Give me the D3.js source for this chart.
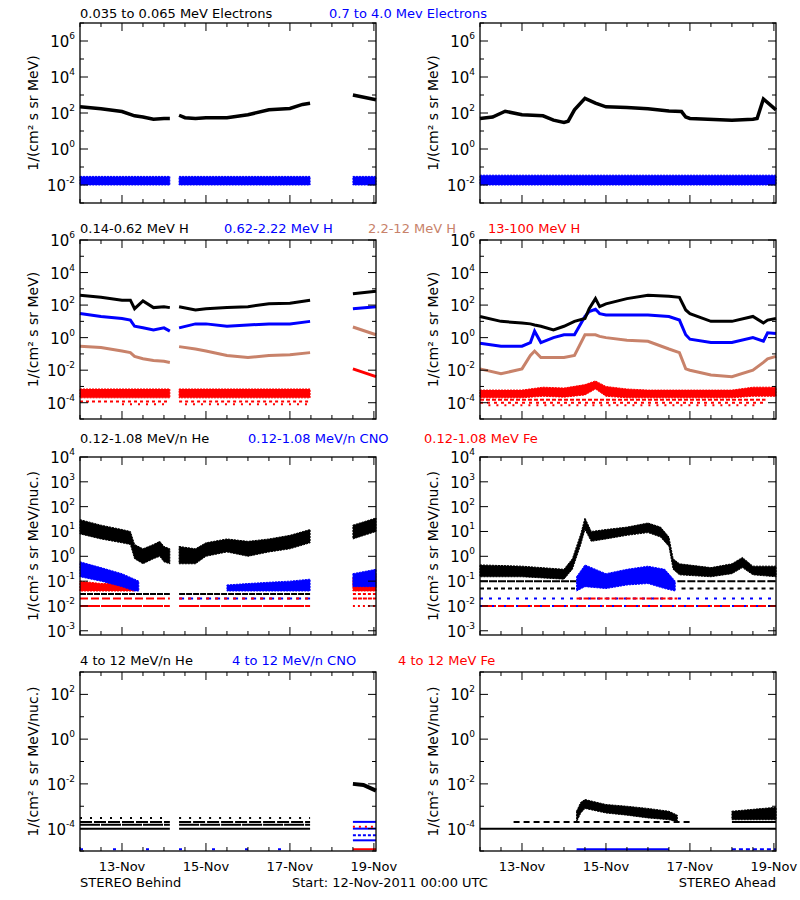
<!DOCTYPE html>
<html><head><meta charset="utf-8">
<script src="https://cdn.jsdelivr.net/npm/d3@7"></script>
<style>body{margin:0;background:#fff}text{font-family:"DejaVu Sans",sans-serif}</style>
</head><body><svg id="c" width="800" height="900"></svg>
<script>
// colours
const BLK = '#000', BLU = '#0000ff', BRN = '#c8826a', RED = '#ff0000'

// ---- row 1 : electrons (days since 12-Nov 00:00)
const e1LeftT = [0, 0.5, 1.0, 1.3, 1.5, 1.75, 2.0, 2.14, null, 2.36, 2.5, 2.75, 3.0, 3.5, 4.0, 4.5, 5.0, 5.3, 5.48, null, 6.5, 7.05]
const e1LeftV = [220, 170, 120, 70, 60, 45, 50, 50, null, 75, 55, 50, 55, 55, 80, 150, 180, 300, 350, null, 1000, 550]
const e1RightT = [0, 0.3, 0.6, 1.0, 1.5, 1.75, 2.0, 2.1, 2.25, 2.5, 2.75, 3.0, 3.5, 4.0, 4.5, 4.8, 4.9, 5.0, 6.0, 6.5, 6.6, 6.75, 7.05]
const e1RightV = [50, 60, 125, 80, 70, 40, 30, 35, 150, 650, 350, 220, 200, 170, 130, 120, 60, 50, 40, 45, 50, 600, 150]
const e2LeftT = [0, 2.14, null, 2.36, 5.48, null, 6.5, 7.05]
const e2Lo = [0.01, 0.01, null, 0.01, 0.01, null, 0.01, 0.01]
const e2Hi = [0.03, 0.03, null, 0.03, 0.03, null, 0.03, 0.03]
const e2RightT = [0, 7.05]
const e2RLo = [0.01, 0.01]
const e2RHi = [0.035, 0.035]

// ---- row 2 : protons
const hLeftT = [0, 0.5, 1.0, 1.2, 1.3, 1.5, 1.75, 2.0, 2.14, null, 2.36, 2.75, 3.0, 3.5, 4.0, 4.5, 5.0, 5.48, null, 6.5, 7.05]
const h1LeftV = [400, 300, 200, 200, 60, 180, 70, 80, 70, null, 80, 50, 60, 70, 80, 120, 130, 200, null, 500, 700]
const h2LeftV = [30, 20, 15, 12, 5, 4, 3, 4, 2.5, null, 4, 7, 7, 5, 6, 7, 7, 10, null, 60, 80]
const h3LeftV = [0.3, 0.25, 0.15, 0.12, 0.07, 0.05, 0.04, 0.035, 0.03, null, 0.28, 0.2, 0.15, 0.08, 0.06, 0.08, 0.09, 0.12, null, 4.5, 1.5]
const h4LeftT = [0, 2.14, null, 2.36, 5.48, null, 6.5, 7.05]
const h4Lo = [0.0002, 0.0002, null, 0.0002, 0.0002, null, null, null]
const h4Hi = [0.0007, 0.0007, null, 0.0007, 0.0007, null, null, null]
const h4LeftT2 = [6.5, 7.05]
const h4LeftV2 = [0.012, 0.004]
const hRightT = [0, 0.5, 1.0, 1.2, 1.3, 1.45, 1.75, 2.0, 2.25, 2.5, 2.6, 2.75, 2.85, 3.0, 3.5, 4.0, 4.5, 4.75, 4.9, 5.0, 5.5, 6.0, 6.5, 6.75, 6.85, 7.05]
const h1RightV = [20, 10, 8, 7, 6, 5, 3, 5, 10, 15, 60, 250, 80, 120, 250, 400, 350, 300, 50, 30, 10, 10, 20, 8, 12, 15]
const h2RightV = [0.45, 0.3, 0.3, 0.5, 2.5, 0.5, 1, 1.5, 1.5, 20, 40, 55, 30, 25, 25, 25, 20, 12, 1.5, 0.8, 0.5, 0.5, 1, 0.6, 2, 1.8]
const h3RightV = [0.012, 0.006, 0.012, 0.08, 0.15, 0.06, 0.06, 0.06, 0.08, 1.5, 1.5, 1.5, 1.2, 1, 0.7, 0.6, 0.2, 0.12, 0.012, 0.01, 0.005, 0.004, 0.01, 0.03, 0.05, 0.07]
const h4RightT = [0, 1.0, 1.5, 2.0, 2.5, 2.75, 3.0, 3.5, 4.0, 5.0, 6.0, 6.5, 7.05]
const h4RLo = [0.0002, 0.0002, 0.00025, 0.00022, 0.0003, 0.0007, 0.00025, 0.0002, 0.0002, 0.0002, 0.0002, 0.00025, 0.00025]
const h4RHi = [0.0006, 0.0006, 0.0009, 0.0008, 0.0013, 0.0022, 0.001, 0.0007, 0.0006, 0.0006, 0.0006, 0.0009, 0.0009]

// ---- row 3 : low energy heavy ions
const lLeftT = [0, 0.5, 1.0, 1.2, 1.3, 1.5, 1.75, 1.9, 2.0, 2.14, null, 2.36, 2.75, 3.0, 3.5, 4.0, 4.5, 5.0, 5.48, null, 6.5, 7.05]
const l1Lo = [8, 5, 3.5, 3, 0.8, 0.5, 0.8, 1, 0.6, 0.5, null, 0.5, 0.5, 1, 1.5, 1, 1.5, 2, 3.5, null, 5, 10]
const l1Hi = [30, 18, 12, 10, 3, 2, 3, 4, 2.5, 2, null, 2.5, 2, 3.5, 5, 4, 5, 7, 12, null, 18, 35]
const l2LeftT = [0, 0.5, 1.0, 1.3, 1.4, null, 6.5, 7.05]
const l2Lo = [0.15, 0.1, 0.06, 0.04, 0.04, null, 0.06, 0.06]
const l2Hi = [0.6, 0.35, 0.2, 0.12, 0.1, null, 0.2, 0.3]
const l2LeftT2 = [3.5, 4.0, 4.5, 5.0, 5.48]
const l2Lo2 = [0.04, 0.04, 0.04, 0.04, 0.04]
const l2Hi2 = [0.07, 0.08, 0.09, 0.1, 0.12]
const l3LeftT = [0, 0.5, 1.0, 1.3, null, 6.5, 7.05]
const l3Lo = [0.04, 0.04, 0.04, 0.04, null, 0.04, 0.04]
const l3Hi = [0.1, 0.08, 0.08, 0.06, null, 0.15, 0.2]
const lRightT = [0, 1.0, 2.0, 2.2, 2.4, 2.5, 2.65, 3.0, 3.5, 4.0, 4.3, 4.5, 4.6, 4.75, 5.5, 6.0, 6.25, 6.5, 7.05]
const l1RLo = [0.15, 0.15, 0.12, 0.3, 3, 12, 4, 5, 7, 9, 6, 2.5, 0.3, 0.18, 0.15, 0.2, 0.35, 0.18, 0.15]
const l1RHi = [0.45, 0.4, 0.3, 0.8, 8, 35, 10, 12, 15, 22, 15, 6, 0.8, 0.5, 0.35, 0.5, 0.9, 0.4, 0.4]
const l2RightT = [2.3, 2.5, 3.0, 3.5, 4.0, 4.4, 4.65]
const l2RLo = [0.04, 0.06, 0.05, 0.07, 0.08, 0.05, 0.04]
const l2RHi = [0.15, 0.45, 0.2, 0.3, 0.4, 0.3, 0.1]

// ---- row 4 : high energy heavy ions
const hhLeftT = [6.5, 6.75, 7.05]
const hhLeftV = [0.01, 0.009, 0.005]
const hhRightT = [2.3, 2.4, 2.5, 3.0, 3.5, 4.0, 4.5, 4.7, null, 6.0, 7.05]
const hhRLo = [0.0002, 0.0005, 0.0008, 0.0005, 0.0004, 0.0003, 0.00025, 0.0002, null, 0.00025, 0.00025]
const hhRHi = [0.0006, 0.0015, 0.002, 0.0012, 0.001, 0.0008, 0.0006, 0.0004, null, 0.0006, 0.0009]

// count floor levels: [value, from, to, colour, dash]
const floorsH = [[0.00012, 0, 2.14, RED, '3,3'], [0.00012, 2.36, 5.48, RED, '3,3'], [0.00008, 1, 2.1, RED, '2,6'], [0.00008, 2.5, 5.48, RED, '2,6']]
const floorsHR = [[0.00015, 0, 6.8, RED, '4,2'], [0.0001, 0, 6.8, RED, '3,4'], [0.00007, 0.2, 6.6, RED, '2,6']]
const floorsL = [[0.03, 0, 2.14, BLK, '6,1'], [0.03, 2.36, 5.48, BLK, '6,1'], [0.02, 0, 2.14, RED, '8,3'], [0.02, 2.36, 5.48, BLU, '5,4'], [0.02, 2.36, 5.48, RED, '3,6'], [0.01, 0, 2.14, RED, '20,1'], [0.01, 2.36, 5.48, RED, '20,1'], [0.03, 6.5, 7.05, RED, '3,2'], [0.02, 6.5, 7.05, RED, '4,1'], [0.01, 6.5, 7.05, RED, '2,3']]
const floorsLR = [[0.1, 0, 2.3, BLK, '8,1'], [0.1, 4.7, 7.05, BLK, '8,2'], [0.05, 0, 2.3, BLK, '4,3'], [0.05, 4.8, 7.05, BLK, '4,4'], [0.02, 0, 7.05, BLU, '3,6'], [0.02, 2.3, 4.7, RED, '5,2'], [0.01, 0, 7.05, RED, '16,2'], [0.01, 0, 7.05, BLU, '2,10']]
const floorsHH = [[0.0003, 0, 2.14, BLK, '2,8'], [0.0002, 0, 2.14, BLK, '12,2'], [0.0002, 2.36, 5.48, BLK, '12,2'], [0.00015, 0, 2.14, BLK, '20,1'], [0.00015, 2.36, 5.48, BLK, '20,1'], [0.0001, 0, 2.14, BLK, ''], [0.0001, 2.36, 5.48, BLK, ''], [0.0003, 2.36, 5.48, BLK, '2,8'], [0.000012, 0, 5.48, BLU, '3,30'],
  [0.0002, 6.5, 7.05, BLU, ''], [0.0001, 6.5, 7.05, BLU, ''], [0.00012, 6.5, 7.05, RED, '2,4'], [0.00005, 6.5, 7.05, BLU, '3,2'], [0.00003, 6.5, 7.05, BLU, ''], [0.000012, 6.5, 7.05, RED, '']]
const floorsHHR = [[0.0001, 0, 7.05, BLK, ''], [0.0002, 0.8, 5.0, BLK, '6,4'], [0.0002, 6.0, 7.05, BLK, ''], [0.000012, 2.3, 4.5, BLU, ''], [0.000012, 6.0, 7.05, BLU, '4,3']]

const svg = d3.select('#c')
const colX = [80, 480]
const rows = [
  { y0: 23, y1: 203, dom: [1e-3, 1e7], step: 2, ylab: '1/(cm² s sr MeV)' },
  { y0: 240, y1: 419, dom: [1e-5, 1e6], step: 2, ylab: '1/(cm² s sr MeV)' },
  { y0: 457, y1: 635, dom: [Math.pow(10, -3.17), 1e4], step: 1, ylab: '1/(cm² s sr MeV/nuc.)' },
  { y0: 672, y1: 851, dom: [1e-5, 1e3], step: 2, ylab: '1/(cm² s sr MeV/nuc.)' }
]
const titles = [
  [['0.035 to 0.065 MeV Electrons', BLK, 80], ['0.7 to 4.0 Mev Electrons', BLU, 329]],
  [['0.14-0.62 MeV H', BLK, 80], ['0.62-2.22 MeV H', BLU, 224], ['2.2-12 MeV H', BRN, 368], ['13-100 MeV H', RED, 488]],
  [['0.12-1.08 MeV/n He', BLK, 80], ['0.12-1.08 MeV/n CNO', BLU, 248], ['0.12-1.08 MeV Fe', RED, 424]],
  [['4 to 12 MeV/n He', BLK, 80], ['4 to 12 MeV/n CNO', BLU, 232], ['4 to 12 MeV Fe', RED, 398]]
]

function panel (ci, ri, marks) {
  const r = rows[ri]
  const x = d3.scaleLinear().domain([0, 7.05]).range([colX[ci], colX[ci] + 296])
  const y = d3.scaleLog().domain(r.dom).range([r.y1, r.y0])
  const g = svg.append('g')
  const line = (t, v) => d3.line().defined((d, i) => t[i] !== null && v[i] !== null).x((d, i) => x(t[i])).y((d, i) => y(v[i]))(t)
  const area = (t, lo, hi) => d3.area().defined((d, i) => t[i] !== null && lo[i] !== null).x((d, i) => x(t[i])).y0((d, i) => y(lo[i])).y1((d, i) => y(hi[i]))(t)
  marks.forEach(m => {
    if (m.floors) {
      m.floors.forEach(f => g.append('line').attr('x1', x(f[1])).attr('x2', x(f[2])).attr('y1', y(f[0])).attr('y2', y(f[0]))
        .attr('stroke', f[3]).attr('stroke-width', 2).attr('stroke-dasharray', f[4]))
    } else if (m.lo) {
      g.append('path').attr('d', area(m.t, m.lo, m.hi)).attr('fill', m.c).attr('stroke', m.c).attr('stroke-width', 1)
        .attr('stroke-dasharray', '2,1')
    } else {
      g.append('path').attr('d', line(m.t, m.v)).attr('fill', 'none').attr('stroke', m.c).attr('stroke-width', m.w || 3)
    }
  })
  // frame
  const X0 = colX[ci], X1 = colX[ci] + 296
  g.append('rect').attr('x', X0).attr('y', r.y0).attr('width', 296).attr('height', r.y1 - r.y0)
    .attr('fill', 'none').attr('stroke', '#000').attr('stroke-width', 1.3)
  // y ticks
  const lo = Math.ceil(Math.log10(r.dom[0]) - 1e-6), hi = Math.floor(Math.log10(r.dom[1]) + 1e-6)
  for (let e = lo; e <= hi; e++) {
    const yy = y(Math.pow(10, e))
    const major = Math.abs(e % r.step) === 0
    const len = major ? 8 : 4
    g.append('line').attr('x1', X0).attr('x2', X0 + len).attr('y1', yy).attr('y2', yy).attr('stroke', '#000')
    g.append('line').attr('x1', X1).attr('x2', X1 - len).attr('y1', yy).attr('y2', yy).attr('stroke', '#000')
    if (major) {
      const t = g.append('text').attr('x', X0 - 5).attr('y', yy + 6).attr('text-anchor', 'end').attr('font-size', 15)
      t.append('tspan').text('10')
      t.append('tspan').attr('font-size', 9).attr('dy', -8).text(String(e))
    }
  }
  // x ticks
  for (let d = 0; d <= 7; d += 0.5) {
    const xx = x(d), len = (d % 2 === 1) ? 8 : 4
    g.append('line').attr('x1', xx).attr('x2', xx).attr('y1', r.y1).attr('y2', r.y1 - len).attr('stroke', '#000')
    g.append('line').attr('x1', xx).attr('x2', xx).attr('y1', r.y0).attr('y2', r.y0 + len).attr('stroke', '#000')
    if (ri === 3 && d % 2 === 1) {
      g.append('text').attr('x', xx).attr('y', 871).attr('text-anchor', 'middle').attr('font-size', 13).text((12 + d) + '-Nov')
    }
  }
  // y label
  const ly = (r.y0 + r.y1) / 2
  g.append('text').attr('transform', `translate(${X0 - 42},${ly}) rotate(-90)`).attr('text-anchor', 'middle')
    .attr('font-size', 14).text(r.ylab)
}

panel(0, 0, [
  { t: e2LeftT, lo: e2Lo, hi: e2Hi, c: BLU },
  { t: e1LeftT, v: e1LeftV, c: BLK, w: 3.5 }
])
panel(1, 0, [
  { t: e2RightT, lo: e2RLo, hi: e2RHi, c: BLU },
  { t: e1RightT, v: e1RightV, c: BLK, w: 3.5 }
])
panel(0, 1, [
  { floors: floorsH },
  { t: h4LeftT, lo: h4Lo, hi: h4Hi, c: RED },
  { t: h4LeftT2, v: h4LeftV2, c: RED },
  { t: hLeftT, v: h3LeftV, c: BRN },
  { t: hLeftT, v: h2LeftV, c: BLU },
  { t: hLeftT, v: h1LeftV, c: BLK }
])
panel(1, 1, [
  { floors: floorsHR },
  { t: h4RightT, lo: h4RLo, hi: h4RHi, c: RED },
  { t: hRightT, v: h3RightV, c: BRN },
  { t: hRightT, v: h2RightV, c: BLU },
  { t: hRightT, v: h1RightV, c: BLK }
])
panel(0, 2, [
  { floors: floorsL },
  { t: l3LeftT, lo: l3Lo, hi: l3Hi, c: RED },
  { t: l2LeftT, lo: l2Lo, hi: l2Hi, c: BLU },
  { t: l2LeftT2, lo: l2Lo2, hi: l2Hi2, c: BLU },
  { t: lLeftT, lo: l1Lo, hi: l1Hi, c: BLK }
])
panel(1, 2, [
  { floors: floorsLR },
  { t: l2RightT, lo: l2RLo, hi: l2RHi, c: BLU },
  { t: lRightT, lo: l1RLo, hi: l1RHi, c: BLK }
])
panel(0, 3, [
  { floors: floorsHH },
  { t: hhLeftT, v: hhLeftV, c: BLK, w: 4 }
])
panel(1, 3, [
  { floors: floorsHHR },
  { t: hhRightT, lo: hhRLo, hi: hhRHi, c: BLK }
])

// titles
const titleY = [18, 233, 443, 665]
titles.forEach((row, i) => row.forEach(([txt, c, xx]) => {
  svg.append('text').attr('x', xx).attr('y', titleY[i]).attr('fill', c).attr('font-size', 13).text(txt)
}))
svg.append('text').attr('x', 80).attr('y', 887).attr('font-size', 13).text('STEREO Behind')
svg.append('text').attr('x', 292).attr('y', 887).attr('font-size', 13).text('Start: 12-Nov-2011 00:00 UTC')
svg.append('text').attr('x', 776).attr('y', 887).attr('text-anchor', 'end').attr('font-size', 13).text('STEREO Ahead')
</script></body></html>
